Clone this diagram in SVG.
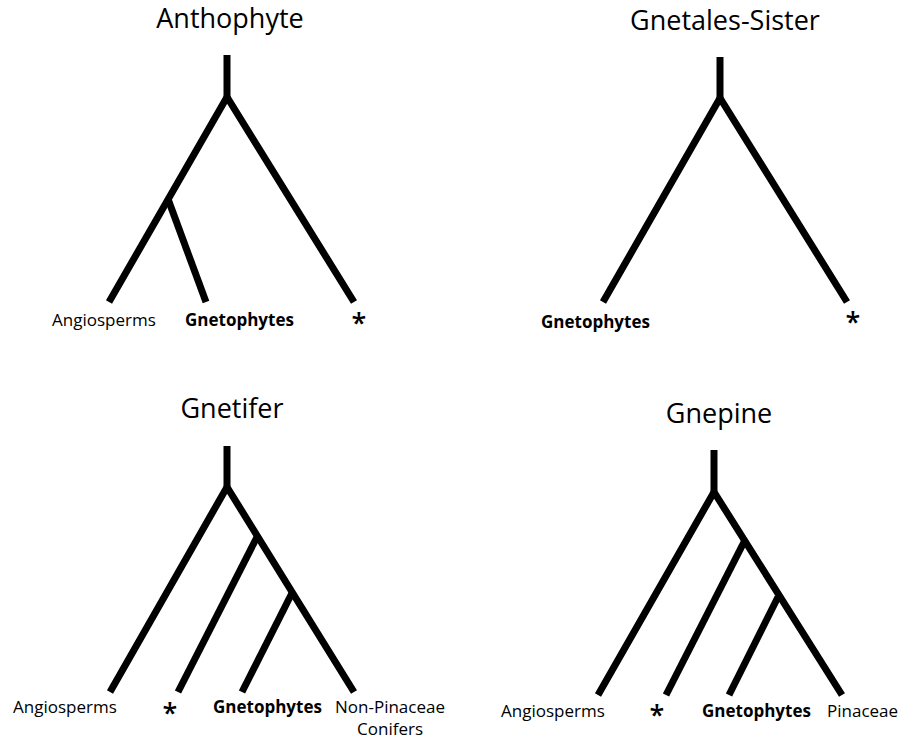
<svg xmlns="http://www.w3.org/2000/svg" width="903" height="742" viewBox="0 0 903 742">
<style>
.t{font-family:"Open Sans","Liberation Sans",sans-serif;font-size:27px;fill:#000;text-anchor:middle}
.l{font-family:"Open Sans","Liberation Sans",sans-serif;font-size:17px;fill:#000}
.b{font-weight:bold}
.s{font-family:"Open Sans","Liberation Sans",sans-serif;font-size:27px;font-weight:600;fill:#000;text-anchor:middle}
.e{fill:none;stroke:#000;stroke-width:7;stroke-linecap:butt;stroke-linejoin:miter}
</style>
<rect width="903" height="742" fill="#fff"/>
<g id="connectors">
<path class="e" d="M227 55V97"/>
<path class="e" d="M109 302L227 97L354 302"/>
<path class="e" d="M168 199L206 302"/>
<path class="e" d="M720 57V98"/>
<path class="e" d="M603 302L720 98L847 302"/>
<path class="e" d="M227 446V487"/>
<path class="e" d="M110 692L227 487L354 692"/>
<path class="e" d="M257 537L178 692"/>
<path class="e" d="M292 593L242 692"/>
<path class="e" d="M714 450V492"/>
<path class="e" d="M598 695L714 492L842 695"/>
<path class="e" d="M744 542L666 695"/>
<path class="e" d="M778 597L729 695"/>
</g>
<g id="anthophyte">
<text class="t" x="230" y="28">Anthophyte</text>
<text class="l" x="52" y="326">Angiosperms</text>
<text class="l b" x="185" y="326">Gnetophytes</text>
<text class="s" x="359" y="333">*</text>
</g>
<g id="gnetales-sister">
<text class="t" x="725" y="30">Gnetales-Sister</text>
<text class="l b" x="541" y="328">Gnetophytes</text>
<text class="s" x="853" y="332">*</text>
</g>
<g id="gnetifer">
<text class="t" x="232" y="418">Gnetifer</text>
<text class="l" x="13" y="713">Angiosperms</text>
<text class="s" x="170" y="723">*</text>
<text class="l b" x="213" y="713">Gnetophytes</text>
<text class="l" x="390" y="713" text-anchor="middle">Non-Pinaceae</text>
<text class="l" x="390" y="735" text-anchor="middle">Conifers</text>
</g>
<g id="gnepine">
<text class="t" x="719" y="423">Gnepine</text>
<text class="l" x="501" y="717">Angiosperms</text>
<text class="s" x="657" y="725">*</text>
<text class="l b" x="702" y="717">Gnetophytes</text>
<text class="l" x="827" y="717">Pinaceae</text>
</g>
</svg>
